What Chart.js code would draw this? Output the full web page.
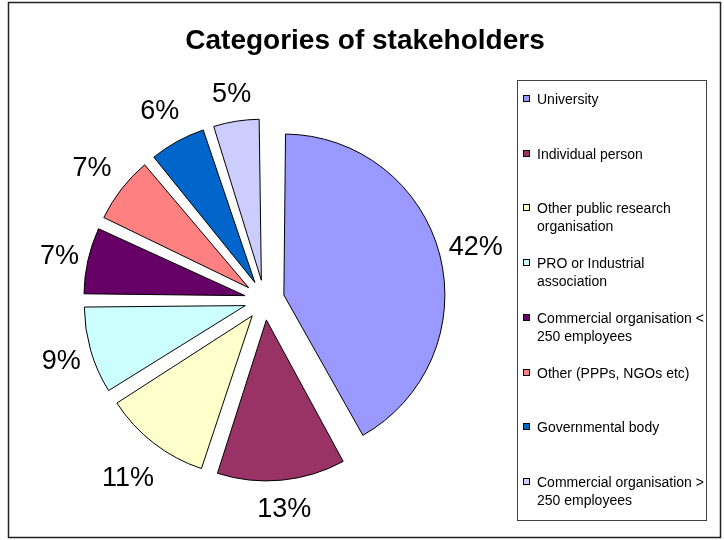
<!DOCTYPE html>
<html>
<head>
<meta charset="utf-8">
<title>Categories of stakeholders</title>
<script src="https://cdn.jsdelivr.net/npm/chart.js@4.4.1/dist/chart.umd.min.js"></script>
<style>
  html, body { margin: 0; padding: 0; background: #fff; }
  #wrap { width: 724px; height: 540px; }
</style>
</head>
<body>
<div id="wrap"><canvas id="stakeholderChart" width="724" height="540"></canvas></div>
<script>
const chartTitle = 'Categories of stakeholders';
const categories = [
  'University',
  'Individual person',
  'Other public research organisation',
  'PRO or Industrial association',
  'Commercial organisation < 250 employees',
  'Other (PPPs, NGOs etc)',
  'Governmental body',
  'Commercial organisation > 250 employees'
];
const shares = [42, 13, 11, 9, 7, 7, 6, 5];
const sliceColors = ['#9999FF', '#993366', '#FFFFCC', '#CCFFFF', '#660066', '#FF8080', '#0066CC', '#CCCCFF'];

const FONT = "'Liberation Sans', Arial, sans-serif";
const pieRadius = 161;
const explode = 20; // how far every slice is pulled out, px

// ArcElement also grows the radius of an offset slice (offset/4 * fix);
// take that back out so all slices keep the same radius
const keepRadius = {
  id: 'keepRadius',
  afterDatasetUpdate(chart, args) {
    args.meta.data.forEach((arc) => {
      const fix = 1 - Math.sin(Math.min(Math.PI, arc.circumference));
      arc.outerRadius = pieRadius - explode * fix;
    });
  }
};

// outer frame + title
const frame = {
  id: 'frame',
  beforeDraw(chart) {
    const ctx = chart.ctx;
    ctx.save();
    ctx.fillStyle = '#fff';
    ctx.fillRect(0, 0, chart.width, chart.height);
    ctx.strokeStyle = '#222';
    ctx.lineWidth = 1.5;
    ctx.strokeRect(8.5, 2.5, 712, 535);
    ctx.fillStyle = '#000';
    ctx.font = 'bold 28px ' + FONT;
    ctx.textAlign = 'center';
    ctx.textBaseline = 'alphabetic';
    ctx.fillText(chartTitle, 365, 49);
    ctx.restore();
  }
};

// percentage labels outside each slice
const sliceLabels = {
  id: 'sliceLabels',
  afterDatasetsDraw(chart) {
    const ctx = chart.ctx;
    const meta = chart.getDatasetMeta(0);
    const values = chart.data.datasets[0].data;
    ctx.save();
    ctx.font = '27px ' + FONT;
    ctx.fillStyle = '#000';
    ctx.textAlign = 'center';
    ctx.textBaseline = 'alphabetic';
    meta.data.forEach((arc, i) => {
      const text = values[i] + '%';
      const mid = (arc.startAngle + arc.endAngle) / 2;
      const dx = Math.cos(mid);
      const dy = Math.sin(mid);
      const w = ctx.measureText(text).width;
      const dist = pieRadius + explode - 14 +
        (w / 2 + 16) * Math.abs(dx) + 38 * Math.abs(dy);
      ctx.fillText(text, arc.x + dx * dist, arc.y + dy * dist + 9.5);
    });
    ctx.restore();
  }
};

function wrapText(ctx, text, maxWidth) {
  const words = text.split(' ');
  const lines = [];
  let line = '';
  words.forEach((word) => {
    const test = line ? line + ' ' + word : word;
    if (line && ctx.measureText(test).width > maxWidth) {
      lines.push(line);
      line = word;
    } else {
      line = test;
    }
  });
  if (line) lines.push(line);
  return lines;
}

// boxed legend on the right
const sideLegend = {
  id: 'sideLegend',
  afterDraw(chart) {
    const ctx = chart.ctx;
    const colors = chart.data.datasets[0].backgroundColor;
    ctx.save();
    ctx.strokeStyle = '#404040';
    ctx.lineWidth = 1;
    ctx.strokeRect(517.5, 80.5, 189, 440);
    ctx.font = '14px ' + FONT;
    ctx.textAlign = 'left';
    ctx.textBaseline = 'alphabetic';
    chart.data.labels.forEach((label, i) => {
      const base = Math.round(103.7 + i * 54.8);
      ctx.fillStyle = colors[i];
      ctx.fillRect(523, base - 9, 7, 7);
      ctx.strokeStyle = '#000';
      ctx.strokeRect(523.5, base - 8.5, 6, 6);
      ctx.fillStyle = '#000';
      wrapText(ctx, label, 170).forEach((line, j) => {
        ctx.fillText(line, 537, base + j * 18);
      });
    });
    ctx.restore();
  }
};

new Chart(document.getElementById('stakeholderChart'), {
  type: 'pie',
  data: {
    labels: categories,
    datasets: [
      {
        data: shares,
        backgroundColor: sliceColors,
        borderColor: '#000',
        borderWidth: 1,
        offset: explode * 4 // arcs are translated by offset / 4
      }
    ]
  },
  options: {
    responsive: false,
    animation: false,
    devicePixelRatio: 1,
    radius: pieRadius,
    layout: {
      padding: { left: 20, right: 215, top: 100, bottom: 40 }
    },
    plugins: {
      legend: { display: false },
      title: { display: false },
      tooltip: { enabled: false }
    }
  },
  plugins: [keepRadius, frame, sliceLabels, sideLegend]
});
</script>
</body>
</html>
